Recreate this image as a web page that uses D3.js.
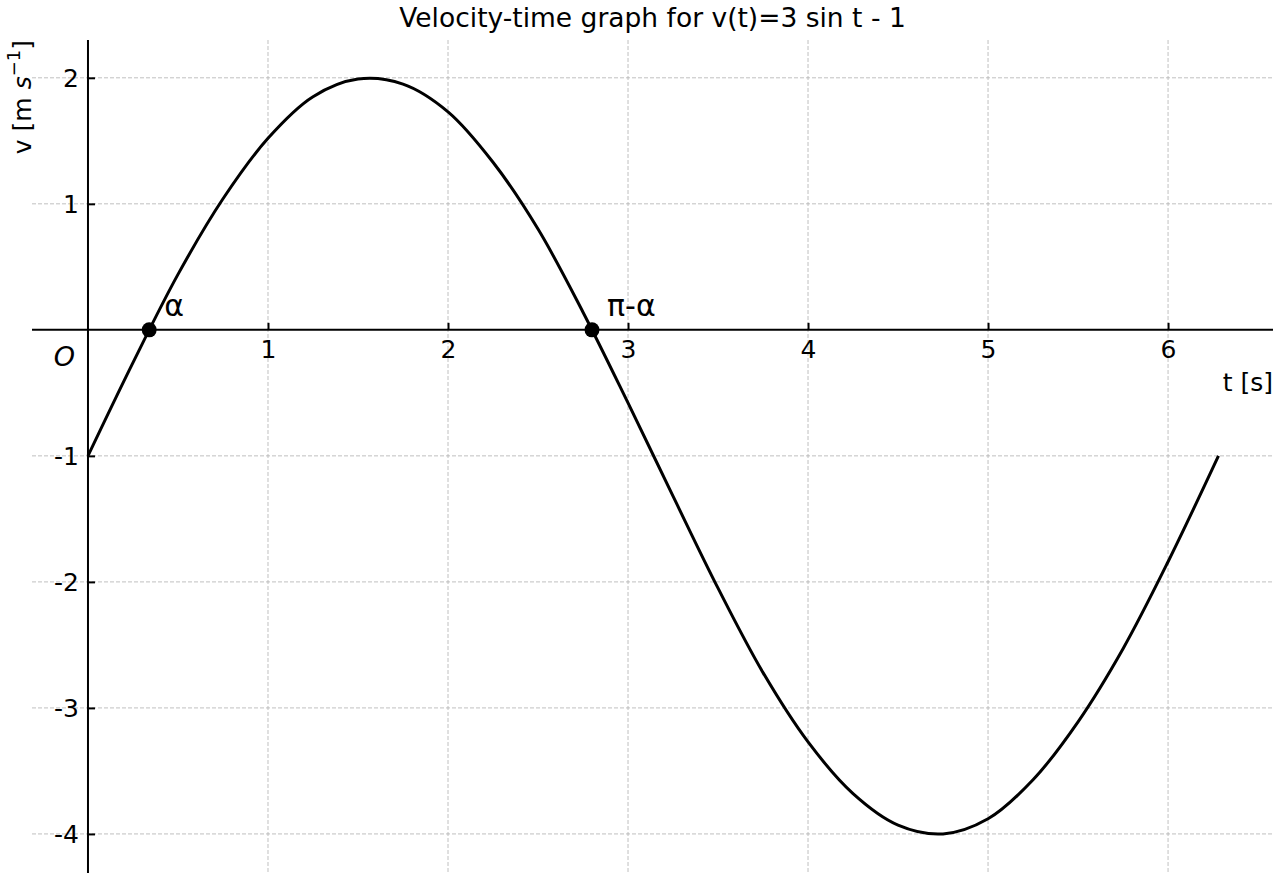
<!DOCTYPE html>
<html>
<head>
<meta charset="utf-8">
<script src="https://cdn.jsdelivr.net/npm/d3@7"></script>
<style>
  body { margin: 0; background: #fff; }
  text { font-family: "DejaVu Sans", sans-serif; fill: #000; }
</style>
</head>
<body>
<div id="chart"></div>
<script>
// values
var times = [0, 0.25, 0.5, 0.75, 1.0, 1.25, 1.5, 1.75, 2.0, 2.25, 2.5, 2.75, 3.0,
  3.25, 3.5, 3.75, 4.0, 4.25, 4.5, 4.75, 5.0, 5.25, 5.5, 5.75, 6.0, 6.28];
var velocities = [-1.0, -0.26, 0.44, 1.04, 1.52, 1.85, 1.99, 1.95, 1.73, 1.33, 0.80, 0.14, -0.58,
  -1.32, -2.05, -2.72, -3.27, -3.68, -3.93, -4.0, -3.88, -3.57, -3.11, -2.53, -1.84, -1.0];
var rootTimes = [0.34, 2.80];
var rootLabels = ["α", "π-α"];
var xTicks = [1, 2, 3, 4, 5, 6];
var yTicks = [-4, -3, -2, -1, 1, 2];

var width = 1280, height = 880;
var margin = { top: 40, right: 7, bottom: 7, left: 32 };

var svg = d3.select("#chart").append("svg")
  .attr("width", width)
  .attr("height", height);

var xScale = d3.scaleLinear().domain([-0.311, 6.583]).range([margin.left, width - margin.right]);
var yScale = d3.scaleLinear().domain([-4.31, 2.30]).range([height - margin.bottom, margin.top]);

// grid
var grid = svg.append("g").attr("class", "grid");
grid.selectAll(".vgrid").data(xTicks).enter().append("line")
  .attr("x1", function(d) { return xScale(d); })
  .attr("x2", function(d) { return xScale(d); })
  .attr("y1", margin.top).attr("y2", height - margin.bottom)
  .attr("stroke", "#b0b0b0").attr("stroke-width", 0.8).attr("stroke-dasharray", "4,2");
grid.selectAll(".hgrid").data(yTicks).enter().append("line")
  .attr("y1", function(d) { return yScale(d); })
  .attr("y2", function(d) { return yScale(d); })
  .attr("x1", margin.left).attr("x2", width - margin.right)
  .attr("stroke", "#b0b0b0").attr("stroke-width", 0.8).attr("stroke-dasharray", "4,2");

// axes through the origin
var xAxis = d3.axisTop(xScale).tickValues(xTicks).tickSize(7).tickFormat(d3.format("d"));
var gx = svg.append("g")
  .attr("transform", "translate(0," + yScale(0) + ")")
  .call(xAxis);
gx.select(".domain").remove();
gx.selectAll(".tick line").attr("stroke", "#000").attr("stroke-width", 2);
gx.selectAll(".tick text")
  .attr("y", 28).attr("dy", 0)
  .style("font-size", "25px");

var yAxis = d3.axisRight(yScale).tickValues(yTicks).tickSize(7).tickFormat(function(d) { return String(d); });
var gy = svg.append("g")
  .attr("transform", "translate(" + xScale(0) + ",0)")
  .call(yAxis);
gy.select(".domain").remove();
gy.selectAll(".tick line").attr("stroke", "#000").attr("stroke-width", 2);
gy.selectAll(".tick text")
  .attr("x", -9).attr("dy", "0.35em")
  .attr("text-anchor", "end")
  .style("font-size", "25px");

svg.append("line")
  .attr("x1", margin.left).attr("x2", width - margin.right)
  .attr("y1", yScale(0)).attr("y2", yScale(0))
  .attr("stroke", "#000").attr("stroke-width", 2);
svg.append("line")
  .attr("x1", xScale(0)).attr("x2", xScale(0))
  .attr("y1", margin.top).attr("y2", height - margin.bottom)
  .attr("stroke", "#000").attr("stroke-width", 2);

// curve
var line = d3.line()
  .curve(d3.curveCatmullRom)
  .x(function(d, i) { return xScale(times[i]); })
  .y(function(d) { return yScale(d); });

svg.append("path")
  .datum(velocities)
  .attr("fill", "none")
  .attr("stroke", "#000")
  .attr("stroke-width", 3)
  .attr("d", line);

// roots
svg.selectAll(".root").data(rootTimes).enter().append("circle")
  .attr("cx", function(d) { return xScale(d); })
  .attr("cy", yScale(0))
  .attr("r", 7.5)
  .attr("fill", "#000");

svg.selectAll(".rootlabel").data(rootTimes).enter().append("text")
  .attr("x", function(d) { return xScale(d) + 15; })
  .attr("y", yScale(0) - 14)
  .style("font-size", "30px")
  .text(function(d, i) { return rootLabels[i]; });

// origin
svg.append("text")
  .attr("x", xScale(0) - 13).attr("y", yScale(0) + 36)
  .attr("text-anchor", "end")
  .style("font-size", "27px")
  .style("font-style", "italic")
  .text("O");

// axis labels
svg.append("text")
  .attr("x", width - margin.right).attr("y", yScale(0) + 61)
  .attr("text-anchor", "end")
  .style("font-size", "25px")
  .text("t [s]");

var ylab = svg.append("text")
  .attr("transform", "translate(31," + margin.top + ") rotate(-90)")
  .attr("text-anchor", "end")
  .style("font-size", "25px");
ylab.append("tspan").text("v [m ");
ylab.append("tspan").style("font-style", "italic").text("s");
ylab.append("tspan").attr("dy", -11).style("font-size", "18px").text("−1");
ylab.append("tspan").attr("dy", 11).text("]");

// title
svg.append("text")
  .attr("x", (margin.left + width - margin.right) / 2)
  .attr("y", 27)
  .attr("text-anchor", "middle")
  .style("font-size", "26.5px")
  .text("Velocity-time graph for v(t)=3 sin t - 1");
</script>
</body>
</html>
